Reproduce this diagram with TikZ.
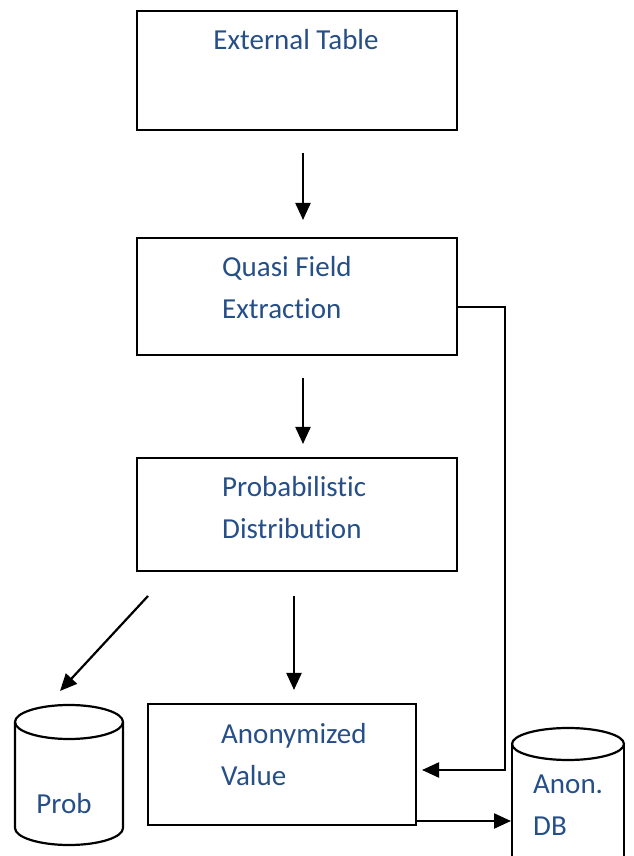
\documentclass[tikz,border=0pt]{standalone}
\usepackage{fontspec}
\setmainfont{Carlito}[Ligatures=CommonOff]
\usetikzlibrary{arrows.meta}
\definecolor{txtblue}{RGB}{38,78,135}
\begin{document}
\begin{tikzpicture}[x=1pt,y=1pt,
  box/.style={draw,line width=2.2pt,minimum width=320pt,inner sep=0pt},
  lbl/.style={text=txtblue,font=\fontsize{29}{42}\selectfont,inner sep=0pt},
  arr/.style={line width=2.2pt,-{Triangle[length=17pt,width=15pt]}},
  cyl/.style={line width=2.2pt}]
\useasboundingbox (0,0) rectangle (633,856);
% boxes
\node[box,minimum height=119pt] (ext) at (297,785.5) {};
\node[box,minimum height=117pt] (quasi) at (297,559.5) {};
\node[box,minimum height=113pt] (pdist) at (297,341.5) {};
\node[box,minimum width=268pt,minimum height=121pt] (anon) at (282,91.5) {};
% labels
\node[lbl] (extT) at (296,816) {External Table};
\node[lbl,align=left,anchor=west] (quasiT) at (222,568) {Quasi Field\\Extraction};
\node[lbl,align=left,anchor=west] (pdistT) at (222,348.5) {Probabilistic\\Distribution};
\node[lbl,align=left,anchor=west] (anonT) at (221,101) {Anonymized\\Value};
% cylinders
\draw[cyl] (15,134) -- (15,28) arc (180:360:54 and 17) -- (123,134);
\draw[cyl] (69,134) ellipse (54 and 17);
\coordinate (probcyl) at (69,134);
\node[lbl] (probT) at (64,52) {Prob};
\draw[cyl] (512,112) -- (512,-30) (624,-30) -- (624,112);
\draw[cyl] (568,112) ellipse (56 and 16);
\coordinate (dbcyl) at (568,112);
\node[lbl,align=left,anchor=west] (dbT) at (533,50.5) {Anon.\\DB};
% connector ends
\coordinate (a1s) at (303,703);
\coordinate (a1e) at (303,636);
\coordinate (a2s) at (303,478);
\coordinate (a2e) at (303,412);
\coordinate (a3s) at (148,260);
\coordinate (a3e) at (60,165);
\coordinate (a4s) at (294,260);
\coordinate (a4e) at (294,166);
\coordinate (a5e) at (422,86);
\coordinate (a6s) at (416,35);
\coordinate (a6e) at (511,35);
% arrows
\draw[arr] (a1s) -- (a1e);
\draw[arr] (a2s) -- (a2e);
\draw[arr] (a3s) -- (a3e);
\draw[arr] (a4s) -- (a4e);
\draw[arr] (quasi.east |- 0,549) -- (505,549) -- (505,86) -- (a5e);
\draw[arr] (a6s) -- (a6e);
\end{tikzpicture}
\end{document}
